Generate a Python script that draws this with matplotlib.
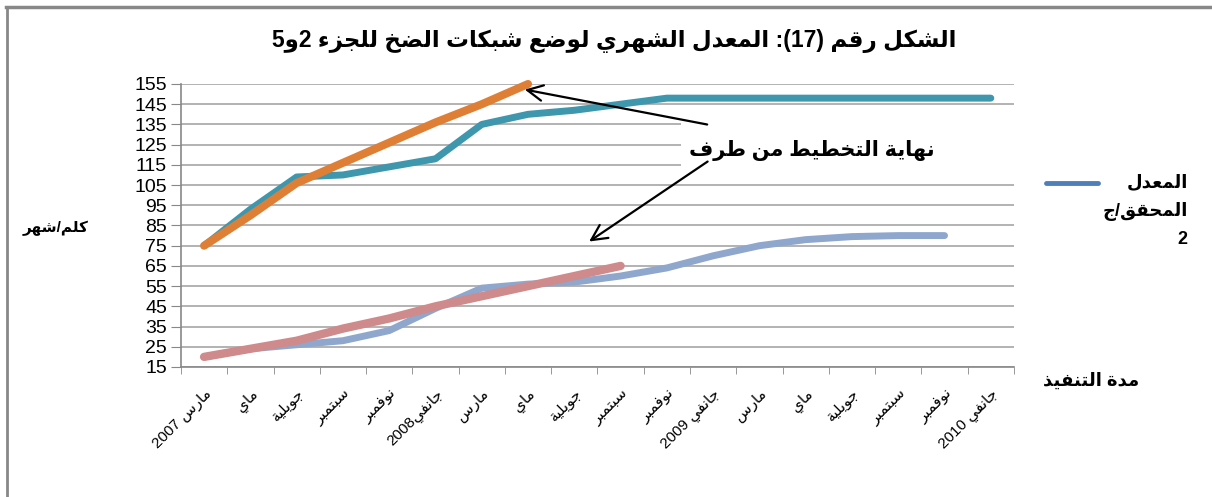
import re
import numpy as np
import matplotlib
matplotlib.use('Agg')
import matplotlib.pyplot as plt
from matplotlib.patches import Rectangle
from matplotlib.lines import Line2D

plt.rcParams['font.family'] = ['Liberation Sans', 'DejaVu Sans']

# --- data ---
months = ['مارس 2007', 'ماي', 'جويلية', 'سبتمبر', 'نوفمبر', 'جانفي2008',
          'مارس', 'ماي', 'جويلية', 'سبتمبر', 'نوفمبر', 'جانفي 2009',
          'مارس', 'ماي', 'جويلية', 'سبتمبر', 'نوفمبر', 'جانفي 2010']
actual_upper = [75, 93, 109, 110, 114, 118, 135, 140, 142, 145, 148, 148,
                148, 148, 148, 148, 148, 148]
planned_upper = [75, 90, 106, 116, 126, 136, 145, 155]
actual_lower = [20, 24, 26, 28, 33, 44, 54, 56, 57, 60, 64, 70, 75, 78,
                79.5, 80, 80]
planned_lower = [20, 24, 28, 34, 39, 45, 50, 55, 60, 65]
yticks = list(range(15, 156, 10))

title = 'الشكل رقم (17): المعدل الشهري لوضع شبكات الضخ للجزء 2و5'
ylabel = 'كلم/شهر'
xlabel = 'مدة التنفيذ'
note = 'نهاية التخطيط من طرف'
legend_lines = ['المعدل', 'المحقق/ج', '2']

# --- small arabic shaper (matplotlib has no shaping / bidi) ---
DUAL = {'ئ': 0xFE89, 'ب': 0xFE8F, 'ت': 0xFE95, 'ث': 0xFE99, 'ج': 0xFE9D,
        'ح': 0xFEA1, 'خ': 0xFEA5, 'س': 0xFEB1, 'ش': 0xFEB5, 'ص': 0xFEB9,
        'ض': 0xFEBD, 'ط': 0xFEC1, 'ظ': 0xFEC5, 'ع': 0xFEC9, 'غ': 0xFECD,
        'ف': 0xFED1, 'ق': 0xFED5, 'ك': 0xFED9, 'ل': 0xFEDD, 'م': 0xFEE1,
        'ن': 0xFEE5, 'ه': 0xFEE9, 'ي': 0xFEF1}
RIGHT = {'آ': 0xFE81, 'أ': 0xFE83, 'ؤ': 0xFE85, 'إ': 0xFE87, 'ا': 0xFE8D,
         'ة': 0xFE93, 'د': 0xFEA9, 'ذ': 0xFEAB, 'ر': 0xFEAD, 'ز': 0xFEAF,
         'و': 0xFEED, 'ى': 0xFEEF}
LAMALEF = {'ا': 0xFEFB, 'أ': 0xFEF7, 'إ': 0xFEF9, 'آ': 0xFEF5}


def ar(s):
    out = []
    i, n = 0, len(s)
    while i < n:
        c = s[i]
        prev = i > 0 and s[i - 1] in DUAL
        if c == 'ل' and i + 1 < n and s[i + 1] in LAMALEF:
            out.append(chr(LAMALEF[s[i + 1]] + (1 if prev else 0)))
            i += 2
            continue
        nxt = i + 1 < n and (s[i + 1] in DUAL or s[i + 1] in RIGHT)
        if c in DUAL:
            f = 3 if (prev and nxt) else 1 if prev else 2 if nxt else 0
            out.append(chr(DUAL[c] + f))
        elif c in RIGHT:
            out.append(chr(RIGHT[c] + (1 if prev else 0)))
        elif c == 'ء':
            out.append(chr(0xFE80))
        else:
            out.append(c)
        i += 1
    vis = ''.join(reversed(out))
    vis = re.sub(r'[0-9]+', lambda m: m.group(0)[::-1], vis)
    return vis.translate(str.maketrans('()', ')('))


fig = plt.figure(figsize=(12.12, 4.97), dpi=100)
ax = fig.add_axes([0.1493, 0.2616, 0.6873, 0.5694])

grid_c = '#A6A6A6'
ax.plot(range(len(actual_upper)), actual_upper, color='#3F97AE', lw=5,
        solid_capstyle='round', solid_joinstyle='round', zorder=3, clip_on=False)
ax.plot(range(len(planned_upper)), planned_upper, color='#DF7F36', lw=5.8,
        solid_capstyle='round', solid_joinstyle='round', zorder=4, clip_on=False)
ax.plot(range(len(actual_lower)), actual_lower, color='#8FA7CD', lw=5,
        solid_capstyle='round', solid_joinstyle='round', zorder=3, clip_on=False)
ax.plot(range(len(planned_lower)), planned_lower, color='#CF8A8B', lw=6,
        solid_capstyle='round', solid_joinstyle='round', zorder=4, clip_on=False)

ax.set_xlim(-0.5, len(months) - 0.5)
ax.set_ylim(15, 155)
ax.set_yticks(yticks)
ax.tick_params(axis='y', labelsize=14, length=7, color='#888888', pad=3)
ax.set_xticks(range(len(months)))
ax.set_xticklabels([ar(m) for m in months], rotation=45, ha='right', va='top',
                   rotation_mode='anchor', fontsize=11)
ax.set_xticks(np.arange(-0.5, len(months)), minor=True)
ax.tick_params(axis='x', which='major', length=0, pad=14)
ax.tick_params(axis='x', which='minor', length=5, color='#888888')
ax.grid(axis='y', color=grid_c, lw=1.2)
ax.set_axisbelow(True)
for side in ['top', 'right']:
    ax.spines[side].set_visible(False)
for side in ['left', 'bottom']:
    ax.spines[side].set_color('#888888')
    ax.spines[side].set_linewidth(1.2)

# white box behind the note hides the gridlines
ax.add_patch(Rectangle((10.3, 108.5), 7.7, 33.5, facecolor='white',
                       edgecolor='none', zorder=1.5, clip_on=False))
ax.text(13.13, 122.3, ar(note), ha='center', va='center', fontsize=15,
        fontweight='bold', zorder=5)
arrow = dict(arrowstyle='->', color='black', lw=1.6, mutation_scale=28)
ax.annotate('', xy=(6.87, 152.5), xytext=(10.93, 134.7), arrowprops=arrow,
            zorder=6, annotation_clip=False)
ax.annotate('', xy=(8.27, 76.3), xytext=(10.93, 117.4), arrowprops=arrow,
            zorder=6)

fig.text(0.507, 0.918, ar(title), ha='center', va='center', fontsize=16.5,
         fontweight='bold')
fig.text(0.073, 0.541, ar(ylabel), ha='right', va='center', fontsize=11,
         fontweight='bold')
fig.text(0.940, 0.233, ar(xlabel), ha='right', va='center', fontsize=13,
         fontweight='bold')

# legend (single entry, drawn like the original)
fig.add_artist(Line2D([0.863, 0.906], [0.632, 0.632], color='#4F7FBA', lw=3.5,
                      solid_capstyle='round'))
for k, line in enumerate(legend_lines):
    fig.text(0.980, 0.632 - k * 0.057, ar(line), ha='right', va='center',
             fontsize=13, fontweight='bold')

# chart frame (top and left edges only)
fig.add_artist(Line2D([0.005, 1.0], [0.985, 0.985], color='#888888', lw=2.5))
fig.add_artist(Line2D([0.006, 0.006], [0.0, 0.985], color='#888888', lw=2.0))

fig.savefig('out.png', dpi=100)
